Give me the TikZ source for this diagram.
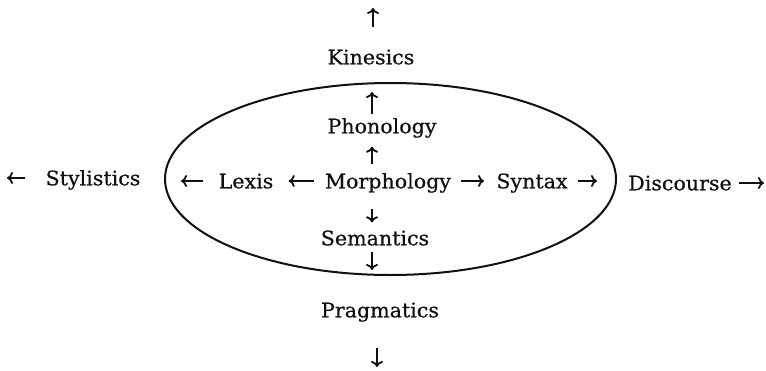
\documentclass[tikz,border=0pt]{standalone}
\usepackage{fontspec}
\setmainfont[FakeStretch=1.03,FakeBold=0.6]{DejaVu Serif}
\usepackage{tikz}
\usetikzlibrary{arrows.meta,shapes.geometric}
\definecolor{LingInk}{HTML}{111111}
\tikzset{
  term/.style={inner sep=0pt,text height=0.73em,text depth=0pt,font=\fontsize{10}{12}\selectfont,text=LingInk},
  ring/.style={draw=LingInk,ellipse,line width=1pt,inner sep=0pt},
  flow/.style={-{To[length=3pt,width=6pt]},line width=0.9pt,draw=LingInk}
}

\begin{document}
\begin{tikzpicture}[x=0.5pt,y=-0.5pt]
  \useasboundingbox (0,0) rectangle (766,370);

  \node[ring,minimum width=225.5pt,minimum height=96pt] (core) at (390.5,179) {};

  \node[term] (kin) at (371,57) {Kinesics};
  \node[term] (phon) at (382,126) {Phonology};
  \node[term] (morph) at (388,181) {Morphology};
  \node[term] (lexis) at (246,181) {Lexis};
  \node[term] (syntax) at (532,181) {Syntax};
  \node[term] (sem) at (375,238) {Semantics};
  \node[term] (prag) at (380,310) {Pragmatics};
  \node[term] (styl) at (93,178) {Stylistics};
  \node[term] (disc) at (680,183) {Discourse};

  \coordinate (kinTip) at (373,8);
  \coordinate (phonTip) at (372,92);
  \coordinate (semTip) at (372,270);
  \coordinate (pragTip) at (377,367);
  \coordinate (stylTip) at (7,178);
  \coordinate (lexisTip) at (181,181);
  \coordinate (syntaxTip) at (597,181);
  \coordinate (discTip) at (764,183);

  \draw[flow,shorten <=11pt] (kin.north -| kinTip) -- (kinTip);
  \draw[flow,shorten <=2pt] (phon.north -| phonTip) -- (phonTip);
  \draw[flow,shorten <=4.5pt,shorten >=6.5pt] (morph.north -| phonTip) -- (phon.south -| phonTip);
  \draw[flow,shorten <=10pt,shorten >=4pt] (morph.south -| semTip) -- (sem.north -| semTip);
  \draw[flow,shorten <=3pt] (sem.south -| semTip) -- (semTip);
  \draw[flow,shorten <=15pt] (prag.south -| pragTip) -- (pragTip);

  \draw[flow,shorten <=10pt] (styl.west) -- (stylTip);
  \draw[flow,shorten <=7.5pt] (lexis.west) -- (lexisTip);
  \draw[flow,shorten <=5.5pt,shorten >=7.5pt] (morph.west) -- (lexis.east);
  \draw[flow,shorten <=5pt,shorten >=6pt] (morph.east) -- (syntax.west);
  \draw[flow,shorten <=5pt] (syntax.east) -- (syntaxTip);
  \draw[flow,shorten <=3.5pt] (disc.east) -- (discTip);

\end{tikzpicture}
\end{document}
